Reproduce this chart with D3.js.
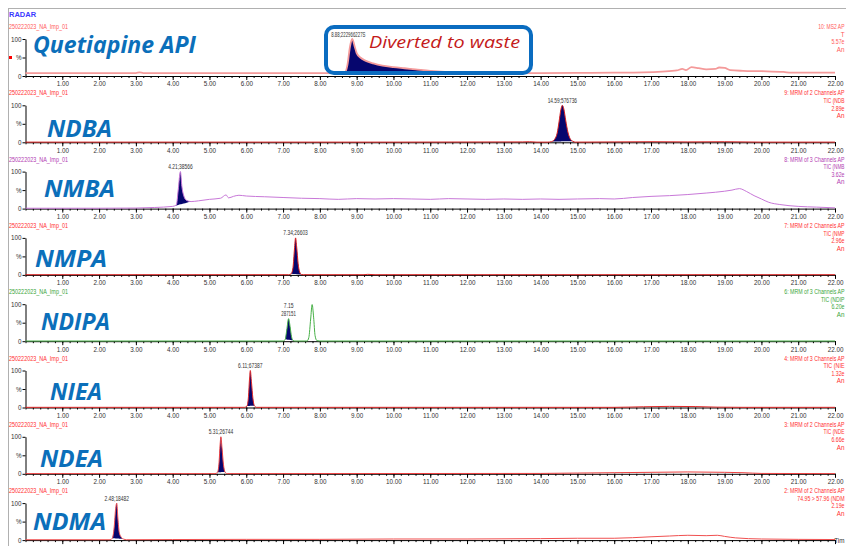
<!DOCTYPE html>
<html><head><meta charset="utf-8">
<script src="https://cdn.jsdelivr.net/npm/d3@7"></script>
<style>
body{margin:0;background:#fff;}
svg{display:block;font-family:'Liberation Sans Narrow','Liberation Sans',Arial,sans-serif;}
</style>
</head><body><svg id="c" width="846" height="546"></svg>
<script>
// ---------------- DATA ----------------
const sampleName = "250222023_NA_Imp_01";
const panelNames = ["Quetiapine API","NDBA","NMBA","NMPA","NDIPA","NIEA","NDEA","NDMA"];
const headerColors = ["#ff5a5a","#ff3030","#b23cb2","#ff3030","#3aa63a","#ff3030","#ff3030","#ff3030"];
const traceColors  = ["#f49a9a","#d82020","#c878d8","#d82020","#46b046","#e02828","#ee4040","#f05050"];
// right-hand channel info, as visible at the window edge
const rightLabels = [
  ["10: MS2 AP","T","5.57e","An"],
  ["9: MRM of 2 Channels AP","TIC (NDB","2.89e","An"],
  ["8: MRM of 3 Channels AP","TIC (NMB","3.62e","An"],
  ["7: MRM of 2 Channels AP","TIC (NMP","2.96e","An"],
  ["6: MRM of 3 Channels AP","TIC (NDIP","6.20e","An"],
  ["4: MRM of 3 Channels AP","TIC (NIE","1.32e","An"],
  ["3: MRM of 2 Channels AP","TIC (NDE","6.66e","An"],
  ["2: MRM of 2 Channels AP","74.95 > 57.96 (NDM","2.19e","An"]
];
const xTickValues = [1,2,3,4,5,6,7,8,9,10,11,12,13,14,15,16,17,18,19,20,21,22];
const yTickValues = [0,50,100];
const yTickLabels = ["0","%","100"];
const peakLabels = ["8.88;222966227S","14.59;576736","4.21;38566","7.34;26603","7.15\n287151","6.11;67387","5.31;26744","2.48;18482"];
const peakApex = [[8.88,100],[14.59,100],[4.21,100],[7.34,100],[7.15,61],[6.11,100],[5.31,100],[2.48,100]];

const quetiapineTrace = [[0,8],[1,8],[2,8],[3.0,8],[3.1,10],[3.2,8],[5,8],[7,8],[8.6,8],[8.68,9],[8.75,30],[8.82,80],[8.88,100],[8.94,82],[9.0,62],[9.1,50],[9.25,41],[9.45,34],[9.7,28],[10.0,24],[10.3,21],[10.6,18],[11.0,14],[11.4,11],[11.8,9],[12.5,8],[14,8],[15,8.5],[16,9],[16.8,10],[17.3,12],[17.7,15],[17.85,19],[17.95,16],[18.1,24],[18.3,21],[18.5,18],[18.75,19],[18.85,23],[19.0,22],[19.15,16],[19.5,14],[20,13],[20.6,11],[20.8,9],[21.5,9],[22,9]];
const ndbaTrace = [[0,0.5],[5,0.5],[10,0.5],[13.5,1],[13.7,1.5],[13.9,0.5],[14.2,0.5],[14.3,2],[14.38,8],[14.45,25],[14.5,55],[14.55,88],[14.59,100],[14.63,90],[14.68,60],[14.74,28],[14.8,10],[14.87,3],[14.95,0.5],[16,1],[17,1.5],[18,1],[19,1.5],[20,0.5],[22,0.5]];
const nmbaTrace = [[0,1],[1,1],[2,1],[3,1.5],[3.5,3],[4.0,6],[4.1,10],[4.15,50],[4.21,100],[4.25,60],[4.3,35],[4.38,22],[4.5,19],[4.7,21],[5.0,25],[5.3,28],[5.45,37],[5.52,29],[5.65,33],[5.8,36],[6.0,34],[6.5,32],[7.0,30],[7.5,28],[8,27],[8.5,25],[9,27],[9.5,26],[10,27],[10.5,26],[11,25],[11.5,27],[12,26],[12.5,25],[13,26],[13.5,25],[14,26],[14.5,25],[15,26],[15.6,27],[16,26],[16.5,30],[17,33],[17.5,35],[18,38],[18.5,42],[19,47],[19.2,50],[19.4,54],[19.6,46],[19.8,35],[20,26],[20.2,17],[20.5,11],[21,6],[21.5,4],[22,2]];
const nmpaTrace = [[0,0.5],[7.15,0.5],[7.22,3],[7.27,20],[7.31,70],[7.34,100],[7.37,75],[7.41,30],[7.45,8],[7.5,1],[7.55,0.5],[9.2,0.5],[9.3,1.5],[9.5,0.5],[22,0.5]];
const ndipaTrace = [[0,0.5],[7.0,0.5],[7.06,5],[7.1,30],[7.15,61],[7.19,40],[7.23,12],[7.27,2],[7.32,0.5],[7.65,0.5],[7.7,10],[7.75,60],[7.79,99],[7.83,65],[7.87,15],[7.92,1.5],[8,0.5],[22,0.5]];
const nieaTrace = [[0,0.5],[5.95,0.5],[6.02,4],[6.06,30],[6.09,80],[6.11,100],[6.14,70],[6.18,25],[6.22,5],[6.28,0.5],[16,0.5],[16.8,2],[17.5,3],[18.2,2.5],[18.8,1],[19.5,0.5],[22,0.5]];
const ndeaTrace = [[0,0.5],[5.15,0.5],[5.22,4],[5.26,30],[5.29,80],[5.31,100],[5.34,70],[5.38,25],[5.42,5],[5.48,0.5],[14,1],[15,2],[16,3],[17,4],[18,5],[19,4],[19.5,3],[20,1],[22,0.5]];
const ndmaTrace = [[0,1],[2.3,1],[2.36,5],[2.41,35],[2.45,85],[2.48,100],[2.51,60],[2.55,20],[2.6,8],[2.66,3],[2.75,1],[4,1.5],[6,2],[8,2],[10,3],[12,3],[14,4],[15,5],[16,5],[17,9],[17.5,11],[18,13],[18.5,12],[18.8,13],[19,10],[19.3,6],[20,3],[21,2],[22,1.5]];
const traces = [quetiapineTrace, ndbaTrace, nmbaTrace, nmpaTrace, ndipaTrace, nieaTrace, ndeaTrace, ndmaTrace];
// integrated peak windows (minutes)
const peakWindows = [[8.68,11.4],[14.3,14.87],[4.0,4.5],[7.22,7.5],[7.06,7.27],[6.02,6.22],[5.22,5.42],[2.36,2.66]];

// ---------------- LAYOUT ----------------
const svg = d3.select("#c");
const x = d3.scaleLinear().domain([0,22]).range([25.5,835]);
const firstBase = 76, pitch = 66.3, panelH = 37;
const bigX = [33,47,44,35,41,50,40,33];
const bigW = [163,65,71,72,69,52,63,73];
const bigY = [53,137,197,267,330,400,467,530];
const fs = 6.3;

// frame
svg.append("line").attr("x1",8).attr("x2",846).attr("y1",8.5).attr("y2",8.5).attr("stroke","#b0b0b0");
svg.append("line").attr("x1",8.5).attr("x2",8.5).attr("y1",8).attr("y2",546).attr("stroke","#b0b0b0");
svg.append("text").attr("x",9).attr("y",17).text("RADAR").attr("fill","#3a3aff").attr("font-size",7.5).attr("font-weight","bold");
svg.append("rect").attr("x",9).attr("y",56).attr("width",3).attr("height",3).attr("fill","#ff0000");

const curve = d3.curveMonotoneX;

traces.forEach((tr, i) => {
  const base = firstBase + pitch*i;
  const y = d3.scaleLinear().domain([0,100]).range([base, base-panelH]);
  const g = svg.append("g");

  // header
  g.append("text").attr("x",9).attr("y",base-47).text(sampleName)
    .attr("fill",headerColors[i]).attr("font-size",fs)
    .attr("textLength",59).attr("lengthAdjust","spacingAndGlyphs");

  // right labels
  rightLabels[i].forEach((t,k)=>{
    const tx = g.append("text").attr("x",844.5).attr("y",base-47+k*7.6).text(t)
      .attr("text-anchor","end").attr("fill",headerColors[i]).attr("font-size",fs);
    if (t.length > 4) tx.attr("textLength", t.length*2.62).attr("lengthAdjust","spacingAndGlyphs");
  });

  // fill
  const [a,b] = peakWindows[i];
  const pts = tr.filter(d=>d[0]>=a-1e-9 && d[0]<=b+1e-9);
  const va = pts[0][1], vb = pts[pts.length-1][1];
  const bl = t => va + (vb-va)*(t-a)/(b-a);
  g.append("path").datum(pts)
    .attr("d", d3.area().curve(curve).x(d=>x(d[0])).y0(d=>y(bl(d[0]))).y1(d=>y(d[1])))
    .attr("fill","#06066e");

  // axes
  const xa = g.append("g").attr("transform",`translate(0,${base})`)
    .call(d3.axisBottom(x).tickValues(xTickValues).tickFormat(d3.format(".2f")).tickSize(4).tickSizeOuter(0).tickPadding(2));
  xa.selectAll("text").attr("font-size",fs).attr("fill","#333").attr("font-family","'Liberation Sans Narrow','Liberation Sans',Arial,sans-serif");
  const xm = g.append("g").attr("transform",`translate(0,${base})`)
    .call(d3.axisBottom(x).tickValues(d3.range(0,22.001,0.2)).tickFormat("").tickSize(2).tickSizeOuter(0));
  xm.select(".domain").remove();
  xm.selectAll("text").remove();
  const ya = g.append("g").attr("transform",`translate(${x(0)},0)`)
    .call(d3.axisLeft(y).tickValues(yTickValues).tickFormat((d,k)=>yTickLabels[k]).tickSize(3).tickSizeOuter(0).tickPadding(1));
  ya.selectAll("text").attr("font-size",fs).attr("fill","#333").attr("font-family","'Liberation Sans Narrow','Liberation Sans',Arial,sans-serif");
  g.selectAll(".domain").attr("stroke","#000");
  g.selectAll(".tick line").attr("stroke","#000");

  // trace
  g.append("path").datum(tr)
    .attr("d", d3.line().curve(curve).x(d=>x(d[0])).y(d=>y(d[1])))
    .attr("fill","none").attr("stroke",traceColors[i]).attr("stroke-width", i===0?1.8:1);

  // peak label
  const [pt,pv] = peakApex[i];
  const lines = peakLabels[i].split("\n");
  lines.forEach((ln,k)=>{
    g.append("text").attr("x", i===0 ? x(pt)-21 : x(pt))
      .attr("y", y(pv)-2.5-(lines.length-1-k)*8.5)
      .attr("text-anchor", i===0?"start":"middle")
      .text(ln).attr("font-size",fs).attr("fill","#333")
      .attr("textLength", ln.length*(i===0?2.28:2.45)).attr("lengthAdjust","spacingAndGlyphs");
  });

  // big compound label
  g.append("text").attr("x",bigX[i]).attr("y",bigY[i]).text(panelNames[i])
    .attr("font-family","'Open Sans','Noto Sans',sans-serif").attr("font-style","italic").attr("font-weight","bold")
    .attr("font-size",23).attr("fill","#0b6fba")
    .attr("textLength",bigW[i]).attr("lengthAdjust","spacingAndGlyphs");
});

svg.append("text").attr("x",844.5).attr("y",543).attr("text-anchor","end").text("Tim").attr("font-size",fs).attr("fill","#333");

// Diverted-to-waste callout
svg.append("rect").attr("x",326).attr("y",27).attr("width",205).attr("height",46).attr("rx",8)
  .attr("fill","none").attr("stroke","#0a6cc0").attr("stroke-width",4);
svg.append("text").attr("x",369).attr("y",47.5).text("Diverted to waste")
  .attr("font-family","'Open Sans','Noto Sans',sans-serif").attr("font-style","italic")
  .attr("font-size",17).attr("fill","#c41a1a").attr("textLength",151).attr("lengthAdjust","spacingAndGlyphs");
</script>
</body></html>
